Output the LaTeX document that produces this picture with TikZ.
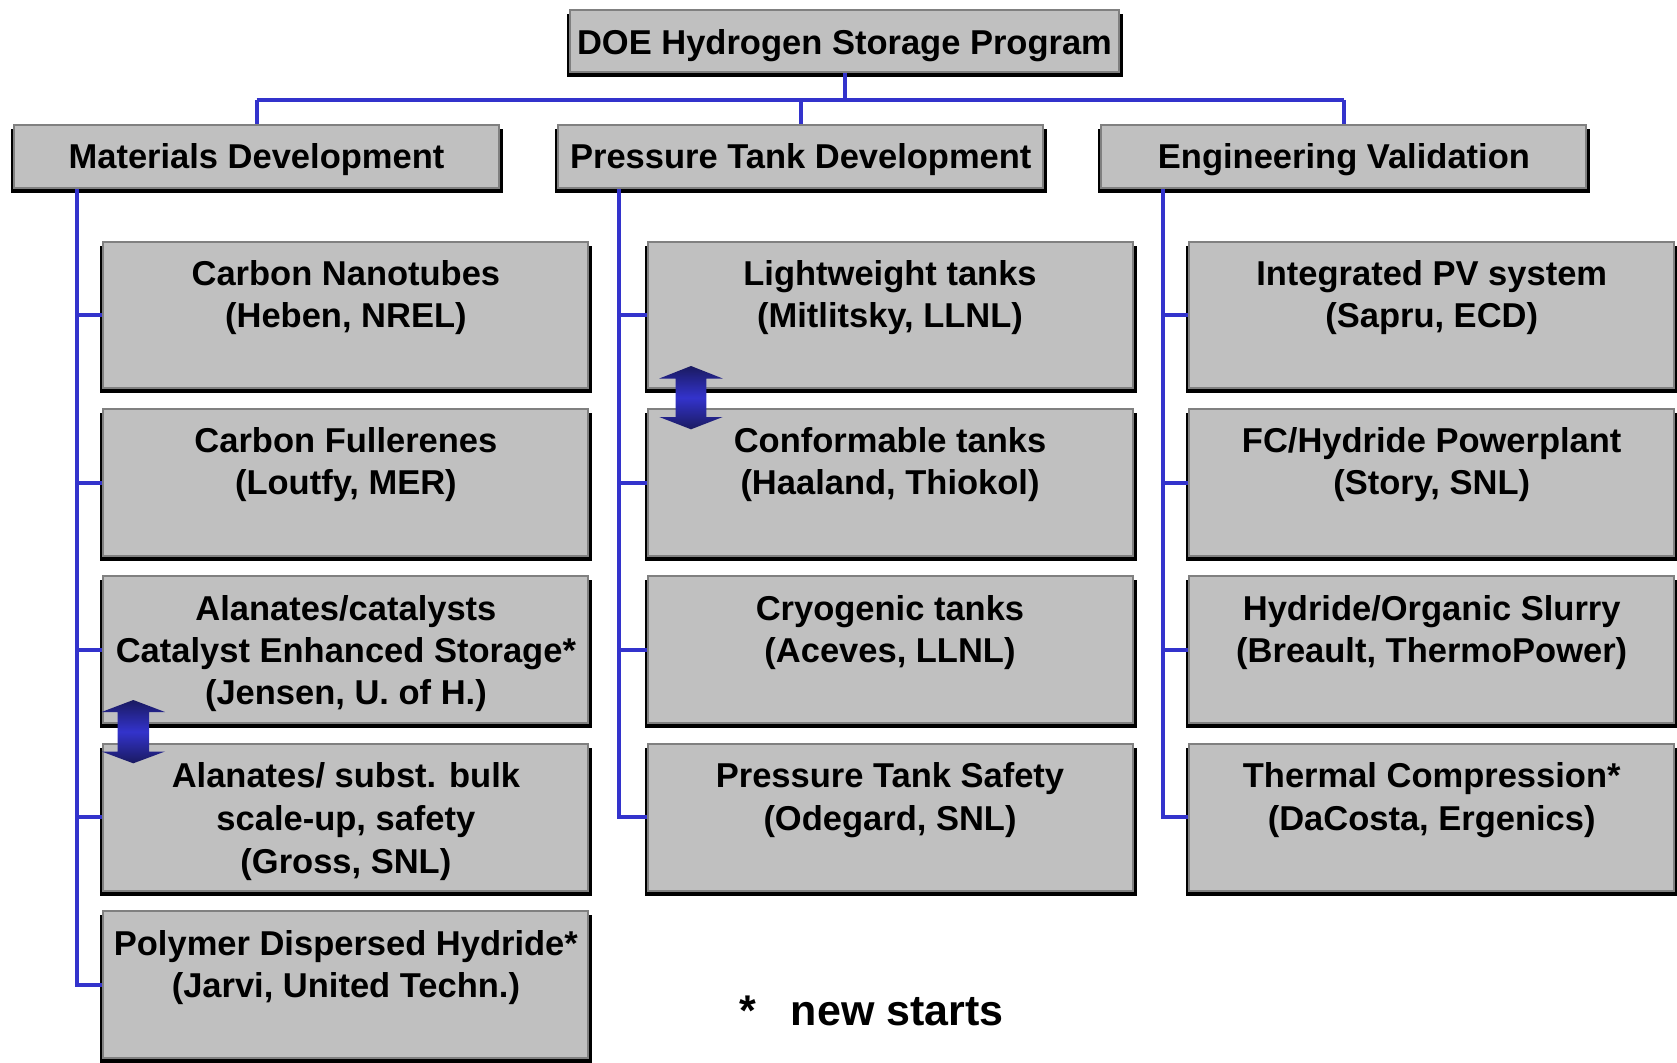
\documentclass[tikz,border=0pt]{standalone}
\usepackage{fontspec}
\setmainfont{Liberation Sans}
\usetikzlibrary{backgrounds}
\definecolor{boxgray}{HTML}{C0C0C0}
\definecolor{boxedge}{HTML}{808080}
\definecolor{linkblue}{RGB}{51,51,204}
\definecolor{arrowdark}{RGB}{26,26,96}
\newcommand\fstrut{\rule{0pt}{27pt}}
\begin{document}
\begin{tikzpicture}[x=1pt,y=-1pt,
  box/.style={fill=boxgray, draw=boxedge, line width=2pt, outer sep=0pt, inner sep=0pt,
              minimum width=485pt, minimum height=146.5pt},
  headbox/.style={box, minimum height=63.3pt, text height=26pt, text depth=3pt,
                  font=\bfseries\fontsize{34.5}{41.5}\selectfont},
  txt/.style={anchor=north, align=center, inner sep=0pt, font=\bfseries\fontsize{34.5}{42}\selectfont},
  txtwide/.style={txt, font=\bfseries\fontsize{34.5}{43}\selectfont},
  link/.style={draw=linkblue, line width=4pt},
  dblarrow/.style={top color=arrowdark, bottom color=arrowdark, middle color=linkblue}]
\useasboundingbox (0,0) rectangle (1677,1062);

% top and group headers
\node[headbox, minimum width=549pt, minimum height=62pt, text height=28pt, text depth=0pt] (top) at (844.5,41) {DOE Hydrogen Storage Program};
\node[headbox] (md)  at (256.5,156.7)  {Materials Development};
\node[headbox] (ptd) at (800.8,156.7)  {Pressure Tank Development};
\node[headbox] (ev)  at (1343.9,156.7) {Engineering Validation};

% column 1
\node[box] (c11) at (345.9,315)   {};
\node[box] (c12) at (345.9,482.5) {};
\node[box] (c13) at (345.9,649.6) {};
\node[box] (c14) at (345.9,817.3) {};
\node[box] (c15) at (345.9,984.6) {};
% column 2
\node[box] (c21) at (890,315)   {};
\node[box] (c22) at (890,482.5) {};
\node[box] (c23) at (890,649.6) {};
\node[box] (c24) at (890,817.3) {};
% column 3
\node[box] (c31) at (1431.7,315)   {};
\node[box] (c32) at (1431.7,482.5) {};
\node[box] (c33) at (1431.7,649.6) {};
\node[box] (c34) at (1431.7,817.3) {};

% texts
\node[txt] (t11) at ([yshift=-16.5pt]c11.north) {\fstrut Carbon Nanotubes\\(Heben, NREL)};
\node[txt] (t12) at ([yshift=-16.5pt]c12.north) {\fstrut Carbon Fullerenes\\(Loutfy, MER)};
\node[txt] (t13) at ([yshift=-16.5pt]c13.north) {\fstrut Alanates/catalysts\\Catalyst Enhanced Storage*\\(Jensen, U. of H.)};
\node[txtwide] (t14) at ([yshift=-16.5pt]c14.north) {\fstrut Alanates/ subst. bulk\\scale-up, safety\\(Gross, SNL)};
\node[txt] (t15) at ([yshift=-16.5pt]c15.north) {\fstrut Polymer Dispersed Hydride*\\(Jarvi, United Techn.)};

\node[txt] (t21) at ([yshift=-16.5pt]c21.north) {\fstrut Lightweight tanks\\(Mitlitsky, LLNL)};
\node[txt] (t22) at ([yshift=-16.5pt]c22.north) {\fstrut Conformable tanks\\(Haaland, Thiokol)};
\node[txt] (t23) at ([yshift=-16.5pt]c23.north) {\fstrut Cryogenic tanks\\(Aceves, LLNL)};
\node[txtwide] (t24) at ([yshift=-16.5pt]c24.north) {\fstrut Pressure Tank Safety\\(Odegard, SNL)};

\node[txt] (t31) at ([yshift=-16.5pt]c31.north) {\fstrut Integrated PV system\\(Sapru, ECD)};
\node[txt] (t32) at ([yshift=-16.5pt]c32.north) {\fstrut FC/Hydride Powerplant\\(Story, SNL)};
\node[txt] (t33) at ([yshift=-16.5pt]c33.north) {\fstrut Hydride/Organic Slurry\\(Breault, ThermoPower)};
\node[txtwide] (t34) at ([yshift=-16.5pt]c34.north) {\fstrut Thermal Compression*\\(DaCosta, Ergenics)};

% footnote
\node[anchor=base west, inner sep=0pt, font=\bfseries\fontsize{43}{48}\selectfont] (note) at (739,1025) {*\hspace{35pt}new starts};

\begin{pgfonlayer}{background}
  % shadows
  \foreach \n in {top,md,ptd,ev,c11,c12,c13,c14,c15,c21,c22,c23,c24,c31,c32,c33,c34}
    \fill[black] ([xshift=-3pt,yshift=-4pt]\n.north west) rectangle ([xshift=4pt,yshift=-5pt]\n.south east);
  % bus
  \coordinate (bus) at (844.5,100);
  \draw[link] (top.south) -- (bus);
  \draw[link] (md.north |- bus) -- (ev.north |- bus);
  \draw[link] (md.north |- bus) -- (md.north);
  \draw[link] (ptd.north |- bus) -- (ptd.north);
  \draw[link] (ev.north |- bus) -- (ev.north);
  % spines
  \path (md.south)  ++(-179.5,0) coordinate (s1);
  \path (ptd.south) ++(-182.1,0) coordinate (s2);
  \path (ev.south)  ++(-181.2,0) coordinate (s3);
  \draw[link] (s1) |- (c15.west);
  \draw[link] (s2) |- (c24.west);
  \draw[link] (s3) |- (c34.west);
  \foreach \n in {c11,c12,c13,c14} \draw[link] (s1 |- \n.west) -- (\n.west);
  \foreach \n in {c21,c22,c23} \draw[link] (s2 |- \n.west) -- (\n.west);
  \foreach \n in {c31,c32,c33} \draw[link] (s3 |- \n.west) -- (\n.west);
\end{pgfonlayer}

% double-headed block arrows
\path[dblarrow] (691,366) -- (722.7,378.5) -- (706.3,378.5) -- (706.3,417) -- (722.7,417) -- (691,429.3)
  -- (659.3,417) -- (675.7,417) -- (675.7,378.5) -- (659.3,378.5) -- cycle;
\path[dblarrow] (133.3,700) -- (165,712) -- (149,712) -- (149,751.5) -- (165,751.5) -- (133.3,763.3)
  -- (101.6,751.5) -- (117.6,751.5) -- (117.6,712) -- (101.6,712) -- cycle;
\end{tikzpicture}
\end{document}
